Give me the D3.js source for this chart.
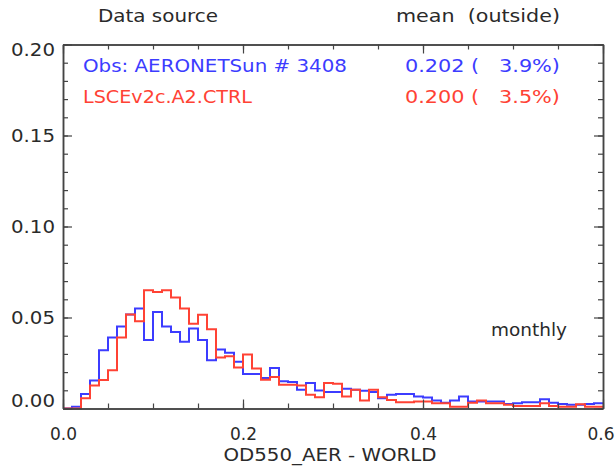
<!DOCTYPE html>
<html>
<head>
<meta charset="utf-8">
<script src="https://cdn.jsdelivr.net/npm/d3@7"></script>
<style>
  html, body { margin: 0; padding: 0; background: #fff; }
  svg { display: block; }
  text { font-family: "DejaVu Sans", sans-serif; white-space: pre; }
</style>
</head>
<body>
<svg id="chart" width="615" height="469"></svg>
<script>
// ---- data ----
const binWidth = 0.01;
const obsValues = [
  0.000, 0.001, 0.008, 0.0154, 0.032, 0.039, 0.045, 0.0517, 0.055, 0.0376,
  0.053, 0.045, 0.042, 0.0367, 0.044, 0.0376, 0.0265, 0.0324, 0.0306, 0.0257,
  0.019, 0.019, 0.0168, 0.0223, 0.015, 0.0145, 0.0103, 0.014, 0.0099, 0.009,
  0.009, 0.0108, 0.0103, 0.0097, 0.009, 0.0056, 0.0075, 0.008, 0.008, 0.0066,
  0.006, 0.0044, 0.0032, 0.0044, 0.0066, 0.0038, 0.0038, 0.0038, 0.0038, 0.0025,
  0.0029, 0.0034, 0.0034, 0.0051, 0.0032, 0.0025, 0.002, 0.002, 0.0025, 0.0029
];
const modelValues = [
  0.000, 0.000, 0.0057, 0.0126, 0.0157, 0.021, 0.039, 0.0517, 0.048, 0.065,
  0.064, 0.065, 0.061, 0.055, 0.0465, 0.0515, 0.0435, 0.028, 0.0287, 0.0225,
  0.0297, 0.022, 0.0158, 0.0173, 0.013, 0.013, 0.0127, 0.0075, 0.0062, 0.014,
  0.0136, 0.0066, 0.0103, 0.0044, 0.0103, 0.0062, 0.0047, 0.0034, 0.0034, 0.0038,
  0.0038, 0.0029, 0.0029, 0.001, 0.001, 0.0032, 0.0044, 0.0029, 0.0029, 0.002,
  0.0014, 0.0014, 0.0014, 0.0029, 0.0014, 0.001, 0.001, 0.0023, 0.001, 0.001
];
const seriesNames = ["Obs: AERONETSun # 3408", "LSCEv2c.A2.CTRL"];
const seriesStats = ["0.202 (   3.9%)", "0.200 (   3.5%)"];
const seriesColors = ["#3c3cff", "#ff4234"];
const xTickLabels = [0.0, 0.2, 0.4, 0.6];
const yTickLabels = [0.00, 0.05, 0.10, 0.15, 0.20];
const xTitle = "OD550_AER - WORLD";
const headerLeft = "Data source";
const headerRight = "mean  (outside)";
const periodLabel = "monthly";

// ---- layout ----
const L = 63, R = 603, T = 44.5, B = 408.5;
const axisColor = "#444";
const textColor = "#2a2a2a";
const FS = 17;

const svg = d3.select("#chart");
const x = d3.scaleLinear().domain([0, 0.6]).range([L, R]);
const y = d3.scaleLinear().domain([0, 0.2]).range([B, T]);

// series
const line = d3.line().x(d => x(d[0])).y(d => y(d[1])).curve(d3.curveStepAfter);
function stepPoints(vals) {
  const pts = vals.map((v, i) => [i * binWidth, v]);
  pts.push([vals.length * binWidth, vals[vals.length - 1]]);
  return pts;
}
const plot = svg.append("g");
plot.append("path").datum(stepPoints(obsValues))
  .attr("d", line).attr("fill", "none")
  .attr("stroke", seriesColors[0]).attr("stroke-width", 2);
plot.append("path").datum(stepPoints(modelValues))
  .attr("d", line).attr("fill", "none")
  .attr("stroke", seriesColors[1]).attr("stroke-width", 2);

// axes (inward ticks, mirrored)
function styleAxis(g) {
  g.selectAll("path").attr("stroke", axisColor).attr("stroke-width", 1.5);
  g.selectAll("line").attr("stroke", axisColor).attr("stroke-width", 1.2);
}
const xMinor = d3.range(0, 13).map(i => i * 0.05);
const yMinor = d3.range(0, 21).map(i => i * 0.01);

// bottom
svg.append("g").attr("transform", `translate(0,${B})`)
  .call(d3.axisBottom(x).tickValues(xMinor).tickSize(-5).tickFormat("").tickSizeOuter(0))
  .call(styleAxis);
const xAxisG = svg.append("g").attr("transform", `translate(0,${B})`)
  .call(d3.axisBottom(x).tickValues(xTickLabels).tickSize(-9).tickPadding(19)
    .tickFormat(d3.format(".1f")).tickSizeOuter(0))
  .call(styleAxis);
xAxisG.selectAll("text").attr("fill", textColor).attr("font-size", FS)
  .attr("font-family", "DejaVu Sans, sans-serif");
// keep the last label inside the picture edge
xAxisG.selectAll(".tick").filter(d => d === 0.6).select("text")
  .attr("text-anchor", "end").attr("x", 614 - R);
// top
svg.append("g").attr("transform", `translate(0,${T})`)
  .call(d3.axisTop(x).tickValues(xMinor).tickSize(-5).tickFormat("").tickSizeOuter(0))
  .call(styleAxis);
svg.append("g").attr("transform", `translate(0,${T})`)
  .call(d3.axisTop(x).tickValues(xTickLabels).tickSize(-9).tickFormat("").tickSizeOuter(0))
  .call(styleAxis);
// left
svg.append("g").attr("transform", `translate(${L},0)`)
  .call(d3.axisLeft(y).tickValues(yMinor).tickSize(-5).tickFormat("").tickSizeOuter(0))
  .call(styleAxis);
const yAxisG = svg.append("g").attr("transform", `translate(${L},0)`)
  .call(d3.axisLeft(y).tickValues(yTickLabels).tickSize(-9).tickPadding(8)
    .tickFormat(d3.format(".2f")).tickSizeOuter(0))
  .call(styleAxis);
yAxisG.selectAll("text").attr("fill", textColor).attr("font-size", FS)
  .attr("font-family", "DejaVu Sans, sans-serif")
  .attr("textLength", 44).attr("lengthAdjust", "spacingAndGlyphs")
  .attr("dy", d => d === 0.2 ? "0.65em" : (d === 0 ? "-0.1em" : "0.38em"));
// right
svg.append("g").attr("transform", `translate(${R},0)`)
  .call(d3.axisRight(y).tickValues(yMinor).tickSize(-5).tickFormat("").tickSizeOuter(0))
  .call(styleAxis);
svg.append("g").attr("transform", `translate(${R},0)`)
  .call(d3.axisRight(y).tickValues(yTickLabels).tickSize(-9).tickFormat("").tickSizeOuter(0))
  .call(styleAxis);

function label(txt, xp, yp, w, color, anchor) {
  return svg.append("text").attr("x", xp).attr("y", yp).attr("font-size", FS)
    .attr("fill", color).attr("text-anchor", anchor || "start")
    .attr("textLength", w).attr("lengthAdjust", "spacingAndGlyphs")
    .text(txt);
}

// header
label(headerLeft, 98, 22, 120, textColor);
label(headerRight, 396, 22, 164, textColor);

// legend
const legY = [72, 103];
const nameW = [264, 169];
seriesNames.forEach((n, i) => {
  label(n, 83, legY[i], nameW[i], seriesColors[i]);
  label(seriesStats[i], 405, legY[i], 155, seriesColors[i]);
});

label(periodLabel, 491, 336, 76, textColor);

label(xTitle, 330, 461, 213, textColor, "middle");
</script>
</body>
</html>
